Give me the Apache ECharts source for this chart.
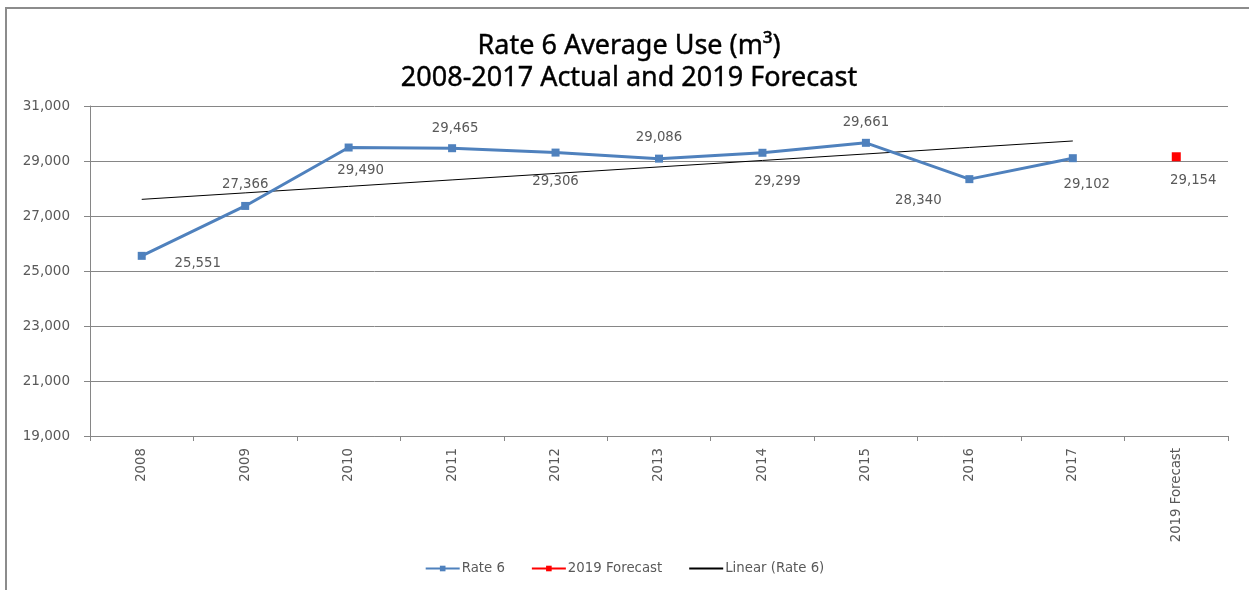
<!DOCTYPE html>
<html>
<head>
<meta charset="utf-8">
<script src="https://cdn.jsdelivr.net/npm/echarts@6/dist/echarts.min.js"></script>
<style>html,body{margin:0;padding:0;background:#fff;}#c{width:1249px;height:590px;}</style>
</head>
<body>
<div id="c"></div>
<script>
const categories = ['2008','2009','2010','2011','2012','2013','2014','2015','2016','2017','2019 Forecast'];
const rate6 = [25551, 27366, 29490, 29465, 29306, 29086, 29299, 29661, 28340, 29102, null];
const forecast = [null, null, null, null, null, null, null, null, null, null, 29154];
const yTicks = [19000, 21000, 23000, 25000, 27000, 29000, 31000];

// Linear trendline (least squares) over actual years, as in the source chart
function linearTrend(vals) {
  const pts = vals.map((v, i) => [i, v]).filter(p => p[1] != null);
  const n = pts.length;
  const mx = pts.reduce((s, p) => s + p[0], 0) / n;
  const my = pts.reduce((s, p) => s + p[1], 0) / n;
  let sxy = 0, sxx = 0;
  pts.forEach(p => { sxy += (p[0] - mx) * (p[1] - my); sxx += (p[0] - mx) * (p[0] - mx); });
  const b = sxy / sxx, a = my - b * mx;
  return vals.map((v, i) => v == null ? null : a + b * i);
}
const trend = linearTrend(rate6);

// label offsets (style), relative to point centre
const rateLabelOffsets = [[56,8],[0,-21],[12,23],[3,-20],[0,29],[0,-21],[15,29],[0,-20],[-51,21],[14,26]];
const fcLabelOffset = [17,24];

const FONT = 'DejaVu Sans';
const fmt = v => Math.round(v).toLocaleString('en-US');

const chart = echarts.init(document.getElementById('c'));
chart.setOption({
  animation: false,
  backgroundColor: '#fff',
  title: {
    text: 'Rate 6 Average Use (m³)\n2008-2017 Actual and 2019 Forecast',
    left: 624, top: 25, textAlign: 'center',
    textStyle: { fontFamily: 'Noto Sans', fontSize: 27, fontWeight: 'normal', color: '#000', lineHeight: 32,
                 textBorderColor: '#000', textBorderWidth: 0.4 }
  },
  graphic: [{
    type: 'rect', shape: { x: 6, y: 8, width: 1400, height: 800 },
    style: { fill: 'none', stroke: '#8c8c8c', lineWidth: 2 }, silent: true, z: -1
  }],
  legend: {
    bottom: 10, left: 'center', itemWidth: 34, itemHeight: 7, itemGap: 26,
    textStyle: { fontFamily: FONT, fontSize: 13.3, color: '#595959', padding: [0, 0, 0, -3] },
    data: ['Rate 6', '2019 Forecast', { name: 'Linear (Rate 6)', itemStyle: { opacity: 0 } }]
  },
  grid: { left: 90, right: 21, top: 106, bottom: 154 },
  xAxis: {
    type: 'category', data: categories, boundaryGap: true,
    axisLine: { lineStyle: { color: '#868686', width: 1 } },
    axisTick: { show: true, length: 5, lineStyle: { color: '#868686' } },
    axisLabel: { rotate: 90, margin: 12, fontFamily: FONT, fontSize: 13.3, color: '#595959' }
  },
  yAxis: {
    type: 'value', min: yTicks[0], max: yTicks[yTicks.length - 1], interval: 2000,
    axisLine: { show: true, lineStyle: { color: '#868686' } },
    axisTick: { show: true, length: 6, lineStyle: { color: '#868686' } },
    splitLine: { lineStyle: { color: '#868686', width: 1 } },
    axisLabel: { margin: 20, fontFamily: FONT, fontSize: 13.5, color: '#595959', formatter: v => fmt(v) }
  },
  series: [
    {
      name: 'Rate 6', type: 'line',
      data: rate6.map((v, i) => v == null ? null : {
        value: v,
        label: { offset: rateLabelOffsets[i] }
      }),
      symbol: 'rect', symbolSize: 8, showAllSymbol: true,
      itemStyle: { color: '#4F81BD' },
      lineStyle: { color: '#4F81BD', width: 3 },
      label: { show: true, position: 'inside', fontFamily: FONT, fontSize: 13.3, color: '#595959', formatter: p => fmt(p.value) },
      z: 3
    },
    {
      name: '2019 Forecast', type: 'line',
      data: forecast.map(v => v == null ? null : { value: v, label: { offset: fcLabelOffset } }),
      symbol: 'rect', symbolSize: 9, showAllSymbol: true,
      itemStyle: { color: '#FF0000' },
      lineStyle: { color: '#FF0000', width: 3 },
      label: { show: true, position: 'inside', fontFamily: FONT, fontSize: 13.3, color: '#595959', formatter: p => fmt(p.value) },
      z: 3
    },
    {
      name: 'Linear (Rate 6)', type: 'line', data: trend,
      symbol: 'none', showSymbol: false,
      itemStyle: { color: '#000' },
      lineStyle: { color: '#000', width: 1 },
      z: 2
    }
  ]
});
</script>
</body>
</html>
